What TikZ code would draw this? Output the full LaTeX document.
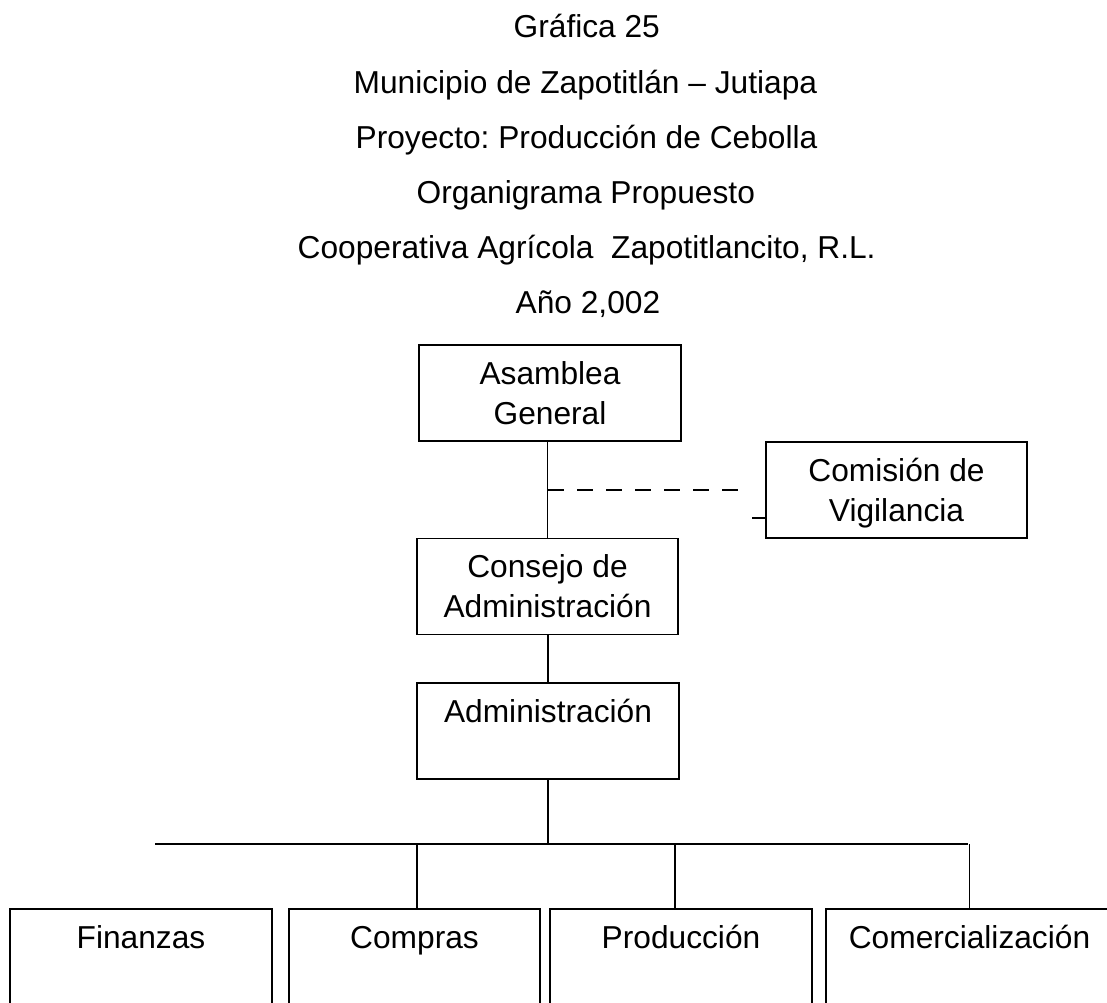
\documentclass[tikz,border=0pt]{standalone}
\usepackage{fontspec}
\setmainfont{Liberation Sans}
\frenchspacing
\newcommand{\orgtext}[2]{\rule{0pt}{39pt}#1\\#2\rule[-17pt]{0pt}{0pt}}

\begin{document}
\begin{tikzpicture}[x=1pt, y=-1pt, line width=1.3pt,
    font=\fontsize{31.7}{40}\selectfont,
    caja/.style={rectangle, draw, align=center, inner xsep=0pt, inner ysep=0pt,
        minimum width=262pt, minimum height=96pt},
    titulo/.style={anchor=base west, inner sep=0pt}]
    \useasboundingbox (0,0) rectangle (1107,1002);
    \fill[white] (0,0) rectangle (1107,1002);
    \clip (0,0) rectangle (1107,1002);

    % Titles
    \node (tit1) [titulo] at (513,37) {Gráfica 25};
    \node (tit2) [titulo] at (353,93) {Municipio de Zapotitlán – Jutiapa};
    \node (tit3) [titulo] at (355,148) {Proyecto: Producción de Cebolla};
    \node (tit4) [titulo] at (416,203) {Organigrama Propuesto};
    \node (tit5) [titulo] at (297,258) {Cooperativa Agrícola\ \ Zapotitlancito, R.L.};
    \node (tit6) [titulo] at (515,313) {Año 2,002};

    % Nodes
    \node (asamblea) [caja] at (550,393) {\orgtext{Asamblea}{General}};
    \node (comision) [caja, minimum width=261pt] at (896.5,490) {\orgtext{Comisión de}{Vigilancia}};
    \node (consejo) [caja, minimum width=261pt] at (547.5,586.5) {\orgtext{Consejo de}{Administración}};
    \node (admin) [caja] at (548,731) {\orgtext{Administración}{}};
    \node (finanzas) [caja] at (141,957) {\orgtext{Finanzas}{}};
    \node (compras) [caja, minimum width=251pt] at (414.5,957) {\orgtext{Compras}{}};
    \node (produccion) [caja] at (681,957) {\orgtext{Producción}{}};
    \node (comercial) [caja, minimum width=287pt] at (969.5,957) {\orgtext{Comercialización}{}};

    % Free ends of the lines
    \coordinate (raya) at (548,490);
    \coordinate (rayafin) at (739,490);
    \coordinate (barraizq) at (155,844);
    \coordinate (barrader) at (968,844);

    % Lines
    \draw (consejo.north) -- (consejo.north |- asamblea.south);
    \draw (admin.north) -- (admin.north |- consejo.south);
    \draw (admin.south) -- (admin.south |- barraizq);
    \draw (barraizq) -- (barrader);
    \draw ([xshift=2.5pt]compras.north) -- ([xshift=2.5pt]compras.north |- barraizq);
    \draw ([xshift=-6pt]produccion.north) -- ([xshift=-6pt]produccion.north |- barraizq);
    \draw (comercial.north) -- (comercial.north |- barraizq);
    \draw[line width=2pt, dash pattern=on 16pt off 13pt] (raya) -- (rayafin);
    \draw ([yshift=-28pt]comision.west) -- ++(-13,0);
\end{tikzpicture}
\end{document}
